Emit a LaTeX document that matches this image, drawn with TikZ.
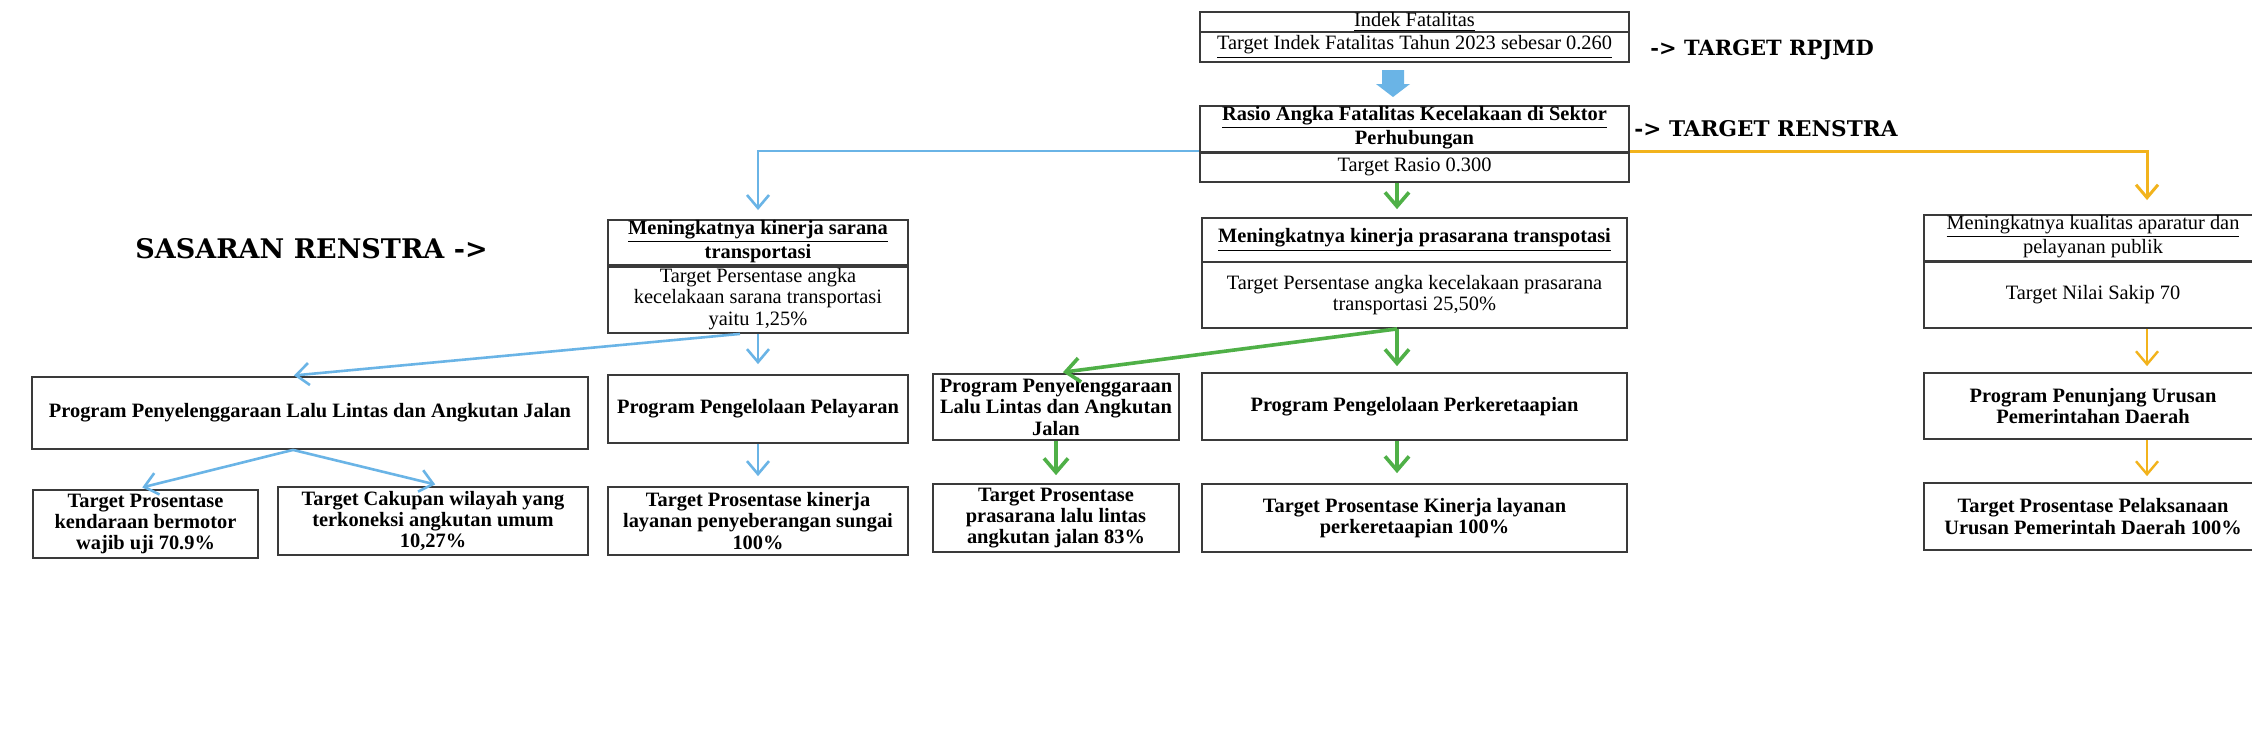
\documentclass[tikz,border=0pt]{standalone}
\usepackage{fontspec}
\setmainfont{Liberation Serif}
\newfontfamily\lblfont{DejaVu Serif}
\usetikzlibrary{arrows.meta}
\definecolor{cblue}{HTML}{6AB4E6}
\definecolor{cgreen}{HTML}{4FB047}
\definecolor{corange}{HTML}{F2B31C}
\definecolor{cframe}{HTML}{3A3A3A}
% \bx{name}{x1}{y1}{x2}{y2}{style}{text}
\newcommand\bx[7]{\node[bxs,#6,minimum width={(#4-#2)*0.5pt},minimum height={(#5-#3)*0.5pt}] (#1) at ({(#2+#4)/2},{(#3+#5)/2}) {#7};}
\begin{document}
\begin{tikzpicture}[x=0.5pt,y=-0.5pt,
  bxs/.style={draw=cframe,line width=0.9pt,inner sep=0pt,align=center,font=\fontsize{10.2}{10.6}\selectfont},
  rg/.style={},
  bd/.style={font=\fontsize{10.2}{10.6}\selectfont\bfseries},
  lbl/.style={anchor=west,inner sep=0pt,font=\lblfont\bfseries},
  bl/.style={draw=cblue,line width=1.3pt,-{Straight Barb[length=6.5pt,width=11pt]}},
  gr/.style={draw=cgreen,line width=1.8pt,-{Straight Barb[length=7pt,width=12pt]}},
  og/.style={draw=corange,line width=1.5pt,-{Straight Barb[length=6.5pt,width=11pt]}},
]
\fill[white] (0,0) rectangle (2252,752);
\useasboundingbox (0,0) rectangle (2252,752);

% top
\bx{indekT}{1200}{12}{1629}{32}{rg}{\underline{Indek Fatalitas}}
\bx{indekB}{1200}{32}{1629}{62}{rg}{\underline{Target Indek Fatalitas Tahun 2023 sebesar 0.260}}
\bx{rasioT}{1200}{107}{1629}{152}{bd}{\underline{Rasio Angka Fatalitas Kecelakaan di Sektor}\\\underline{Perhubungan}}
\bx{rasioB}{1200}{152}{1629}{182}{rg}{Target Rasio 0.300}

% sasaran
\bx{saranaT}{608}{222}{908}{265}{bd}{\underline{Meningkatnya kinerja sarana}\\\underline{transportasi}}
\bx{saranaB}{608}{265}{908}{333}{rg}{Target Persentase angka\\kecelakaan sarana transportasi\\yaitu 1,25\%}
\bx{prasT}{1202}{218}{1627}{262}{bd}{\underline{Meningkatnya kinerja prasarana transpotasi}}
\bx{prasB}{1202}{262}{1627}{328}{rg}{Target Persentase angka kecelakaan prasarana\\transportasi 25,50\%}
\bx{kualT}{1924}{216}{2262}{261}{rg}{\underline{Meningkatnya kualitas aparatur dan}\\\underline{pelayanan publik}}
\bx{kualB}{1924}{261}{2262}{328}{rg}{Target Nilai Sakip 70}

% programs
\bx{llaj}{32}{377}{588}{449}{bd}{Program Penyelenggaraan Lalu Lintas dan Angkutan Jalan}
\bx{pelayaran}{608}{375}{908}{443}{bd}{Program Pengelolaan Pelayaran}
\bx{llaj2}{933}{374}{1179}{440}{bd}{Program Penyelenggaraan\\Lalu Lintas dan Angkutan\\Jalan}
\bx{kereta}{1202}{373}{1627}{440}{bd}{Program Pengelolaan Perkeretaapian}
\bx{penunjang}{1924}{373}{2262}{439}{bd}{Program Penunjang Urusan\\Pemerintahan Daerah}

% targets
\bx{wajib}{33}{490}{258}{558}{bd}{Target Prosentase\\kendaraan bermotor\\wajib uji 70.9\%}
\bx{cakupan}{278}{487}{588}{555}{bd}{Target Cakupan wilayah yang\\terkoneksi angkutan umum\\10,27\%}
\bx{seberang}{608}{487}{908}{555}{bd}{Target Prosentase kinerja\\layanan penyeberangan sungai\\100\%}
\bx{lalin}{933}{484}{1179}{552}{bd}{Target Prosentase\\prasarana lalu lintas\\angkutan jalan 83\%}
\bx{keretaT}{1202}{484}{1627}{552}{bd}{Target Prosentase Kinerja layanan\\perkeretaapian 100\%}
\bx{pelaksanaan}{1924}{483}{2262}{550}{bd}{Target Prosentase Pelaksanaan\\Urusan Pemerintah Daerah 100\%}

% labels
\node[lbl,font=\lblfont\bfseries\fontsize{10.5}{12}\selectfont] (rpjmd) at (1650,50) {-> TARGET RPJMD};
\node[lbl,font=\lblfont\bfseries\fontsize{10.8}{12}\selectfont] (renstra) at (1634,129) {-> TARGET RENSTRA};
\node[lbl,font=\lblfont\bfseries\fontsize{13.5}{15}\selectfont] (sasaran) at (135,249) {SASARAN RENSTRA ->};

% block arrow
\fill[cblue] (1382,70) -- (1404,70) -- (1404,84) -- (1410,84) -- (1393,97) -- (1376,84) -- (1382,84) -- cycle;

\coordinate (gcol) at (1397,0);
\coordinate (ocol) at (2147,0);

% blue
\draw[bl,shorten >=4.5pt] (rasioB.north west) -| (saranaT.north);
\draw[bl,shorten >=3.5pt] ([xshift=-9pt]saranaB.south) -- ([xshift=-11.5pt]llaj.north);
\draw[bl,shorten >=5pt] (saranaB.south) -- (pelayaran.north);
\draw[bl,shorten >=3.5pt] ([xshift=-8.5pt]llaj.south) -- ([xshift=-5pt]wajib.north);
\draw[bl,shorten >=3.5pt] ([xshift=-8.5pt]llaj.south) -- ([xshift=4.5pt]cakupan.north);
\draw[bl,shorten >=5pt] (pelayaran.south) -- (seberang.north);

% green
\draw[gr,shorten >=4pt] (rasioB.south -| gcol) -- (prasT.north -| gcol);
\draw[gr,shorten >=3.5pt] (prasB.south -| gcol) -- (llaj2.north);
\draw[gr,shorten >=3pt] (prasB.south -| gcol) -- (kereta.north -| gcol);
\draw[gr,shorten >=4pt] (llaj2.south) -- (lalin.north);
\draw[gr,shorten >=5pt] (kereta.south -| gcol) -- (keretaT.north -| gcol);

% orange
\draw[og,shorten >=7pt] (rasioB.north east) -| (kualT.north -| ocol);
\draw[og,line width=1.2pt,shorten >=3pt] (kualB.south -| ocol) -- (penunjang.north -| ocol);
\draw[og,line width=1.2pt,shorten >=3pt] (penunjang.south -| ocol) -- (pelaksanaan.north -| ocol);
\end{tikzpicture}
\end{document}
